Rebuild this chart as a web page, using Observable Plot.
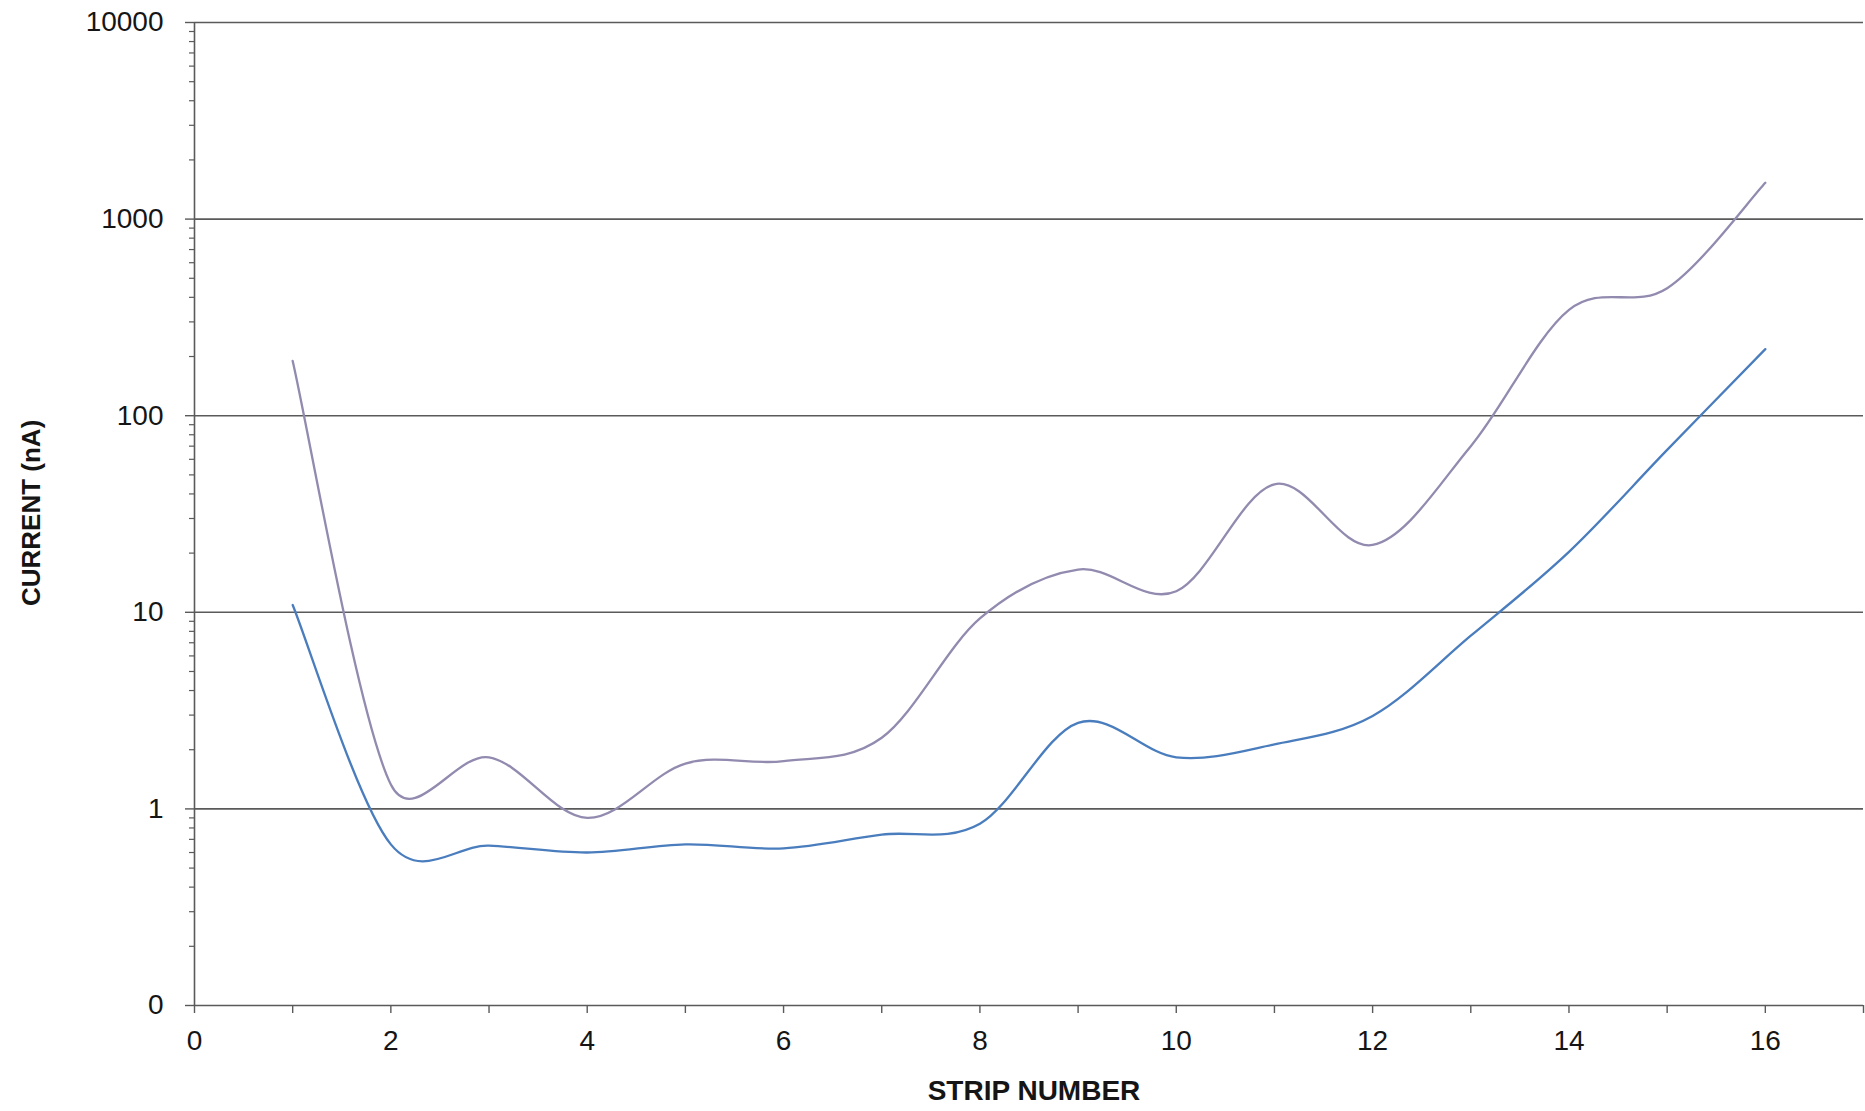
<!DOCTYPE html>
<html>
<head>
<meta charset="utf-8">
<script src="https://cdn.jsdelivr.net/npm/d3@7"></script>
<script src="https://cdn.jsdelivr.net/npm/@observablehq/plot@0.6"></script>
<style>
  html, body { margin: 0; padding: 0; background: #ffffff; }
  #chart svg { display: block; }
</style>
</head>
<body>
<div id="chart"></div>
<script>
// Strip numbers along the sensor
const strips = [1, 2, 3, 4, 5, 6, 7, 8, 9, 10, 11, 12, 13, 14, 15, 16];
// Leakage current per strip (nA), upper (purple) curve
const upperCurrent = [190, 1.33, 1.83, 0.9, 1.7, 1.75, 2.3, 9.3, 16.5, 12.8, 44.8, 22, 70, 345, 445, 1530];
// Leakage current per strip (nA), lower (blue) curve
const lowerCurrent = [10.9, 0.66, 0.65, 0.6, 0.66, 0.63, 0.74, 0.84, 2.74, 1.83, 2.13, 2.97, 7.6, 20.3, 67, 218];

// Axis ticks and their labels
const yTicks = [0.1, 1, 10, 100, 1000, 10000];
const yTickLabels = ["0", "1", "10", "100", "1000", "10000"];
const xTicks = [0, 1, 2, 3, 4, 5, 6, 7, 8, 9, 10, 11, 12, 13, 14, 15, 16, 17];
const xLabelledTicks = [0, 2, 4, 6, 8, 10, 12, 14, 16];

// Minor log ticks (2..9 within each decade)
const yMinorTicks = [];
for (let k = 0; k < yTicks.length - 1; ++k) {
  for (let m = 2; m <= 9; ++m) yMinorTicks.push(yTicks[k] * m);
}

const rows = strips.map((s, i) => ({strip: s, upper: upperCurrent[i], lower: lowerCurrent[i]}));

// Smoothed line in the style of spreadsheet charts: cubic Béziers whose
// handles follow the neighbouring points (1/6 of the chord), shortened to
// at most half a segment where the neighbours lie far away.
function smoothCurve(context) {
  let pts = [];
  const dist = (a, b) => Math.hypot(b[0] - a[0], b[1] - a[1]);
  return {
    areaStart() {},
    areaEnd() {},
    lineStart() { pts = []; },
    point(x, y) { pts.push([+x, +y]); },
    lineEnd() {
      const n = pts.length;
      if (!n) return;
      context.moveTo(pts[0][0], pts[0][1]);
      for (let i = 0; i < n - 1; ++i) {
        const p1 = pts[i], p2 = pts[i + 1];
        const p0 = i > 0 ? pts[i - 1] : p1;
        const p3 = i < n - 2 ? pts[i + 2] : p2;
        const d12 = dist(p1, p2), d02 = dist(p0, p2), d13 = dist(p1, p3);
        const f1 = d02 > 0 ? Math.min(1 / 6, d12 / (2 * d02)) : 0;
        const f2 = d13 > 0 ? Math.min(1 / 6, d12 / (2 * d13)) : 0;
        context.bezierCurveTo(
          p1[0] + f1 * (p2[0] - p0[0]), p1[1] + f1 * (p2[1] - p0[1]),
          p2[0] - f2 * (p3[0] - p1[0]), p2[1] - f2 * (p3[1] - p1[1]),
          p2[0], p2[1]
        );
      }
    }
  };
}

const axisColor = "#5a5a5a";
const textColor = "#151515";

const chart = Plot.plot({
  width: 1865,
  height: 1111,
  marginLeft: 194,
  marginRight: 2,
  marginTop: 22,
  marginBottom: 106,
  style: {
    fontFamily: "'Liberation Sans', Arial, Helvetica, sans-serif",
    background: "#ffffff",
    color: textColor
  },
  x: {domain: [0, 17], label: null},
  y: {type: "log", domain: [0.1, 10000], label: null},
  marks: [
    Plot.gridY(yTicks, {stroke: axisColor, strokeOpacity: 1, strokeWidth: 1.6}),
    Plot.ruleX([0], {stroke: axisColor, strokeWidth: 1.6}),
    Plot.axisY(yMinorTicks, {
      tickSize: 5, tickFormat: () => "", stroke: axisColor, strokeWidth: 1.2, label: null
    }),
    Plot.axisY(yTicks, {
      tickSize: 9, tickPadding: 22, fontSize: 28, fill: textColor,
      stroke: axisColor, strokeWidth: 1.4,
      tickFormat: (d) => yTickLabels[yTicks.indexOf(d)], label: null
    }),
    Plot.axisX(xTicks, {
      tickSize: 8, tickPadding: 17, fontSize: 28, fill: textColor,
      stroke: axisColor, strokeWidth: 1.4,
      tickFormat: (d) => xLabelledTicks.includes(d) ? String(d) : "", label: null
    }),
    Plot.line(rows, {
      x: "strip", y: "upper", curve: smoothCurve,
      stroke: "#928aaf", strokeWidth: 2.3
    }),
    Plot.line(rows, {
      x: "strip", y: "lower", curve: smoothCurve,
      stroke: "#4a7dbd", strokeWidth: 2.3
    }),
    Plot.text(["CURRENT (nA)"], {
      frameAnchor: "left", dx: -163, dy: 92, rotate: -90,
      fontSize: 26, fontWeight: "bold", fill: textColor
    }),
    Plot.text(["STRIP NUMBER"], {
      frameAnchor: "bottom", dx: 5, dy: 94,
      fontSize: 28, fontWeight: "bold", fill: textColor
    })
  ]
});

document.getElementById("chart").appendChild(chart);
</script>
</body>
</html>
